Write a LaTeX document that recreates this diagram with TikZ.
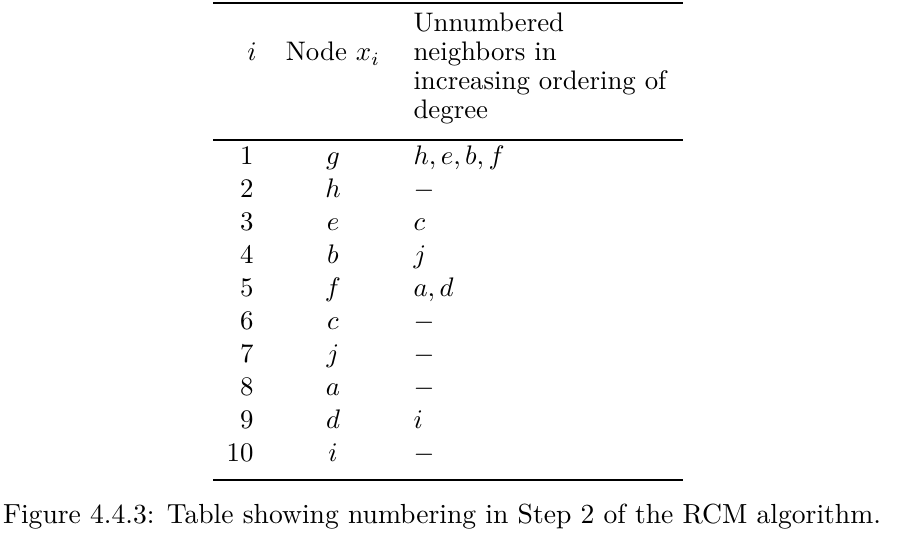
\documentclass[tikz,border=0pt]{standalone}
\usetikzlibrary{positioning}
\begin{document}
\begin{tikzpicture}[x=0.373pt, y=-0.373pt]
 \tikzset{cell node/.style={anchor=base, inner sep=0pt}, }
 \tikzset{num node/.style={cell node, anchor=base east}, }
 \tikzset{nbr node/.style={cell node, anchor=base west}, }
 \tikzset{caption node/.style={cell node, font=\fontsize{10.3pt}{12pt}\selectfont}, }
 \tikzset{rule/.style={line width=0.6pt}, }
 \useasboundingbox (0,0) rectangle (901,550);
 % rules
 \coordinate (tl) at (213,3);   \coordinate (tr) at (683,3);
 \coordinate (ml) at (213,140); \coordinate (mr) at (683,140);
 \coordinate (bl) at (213,480); \coordinate (br) at (683,480);
 \foreach \a/\b in {tl/tr,ml/mr,bl/br}
 \draw[rule] (\a) -- (\b);
 % header
 \node[cell node] (hi) at (252,61) {$i$};
 \node[cell node] (hx) at (333,61) {Node $x_i$};
 \foreach \t [count=\k] in {Unnumbered, neighbors in, increasing ordering of, degree}
 \node[nbr node] (hu\k) at (413,3+29*\k) {\t};
 % rows
 \foreach \n/\v/\u [count=\k] in {1/g/{$h, e, b, f$}, 2/h/$-$, 3/e/$c$, 4/b/$j$,
   5/f/{$a, d$}, 6/c/$-$, 7/j/$-$, 8/a/$-$, 9/d/$i$, 10/i/$-$}
 {
 \node[num node] (i\k) at (254,132+33*\k) {\n};
 \node[cell node] (x\k) at (333,132+33*\k) {$\v$};
 \node[nbr node] (u\k) at (413,132+33*\k) {\u};
 }
 \node[caption node] (cap) at (442,524) {Figure 4.4.3: Table showing numbering in Step 2 of the RCM algorithm.};
\end{tikzpicture}
\end{document}
